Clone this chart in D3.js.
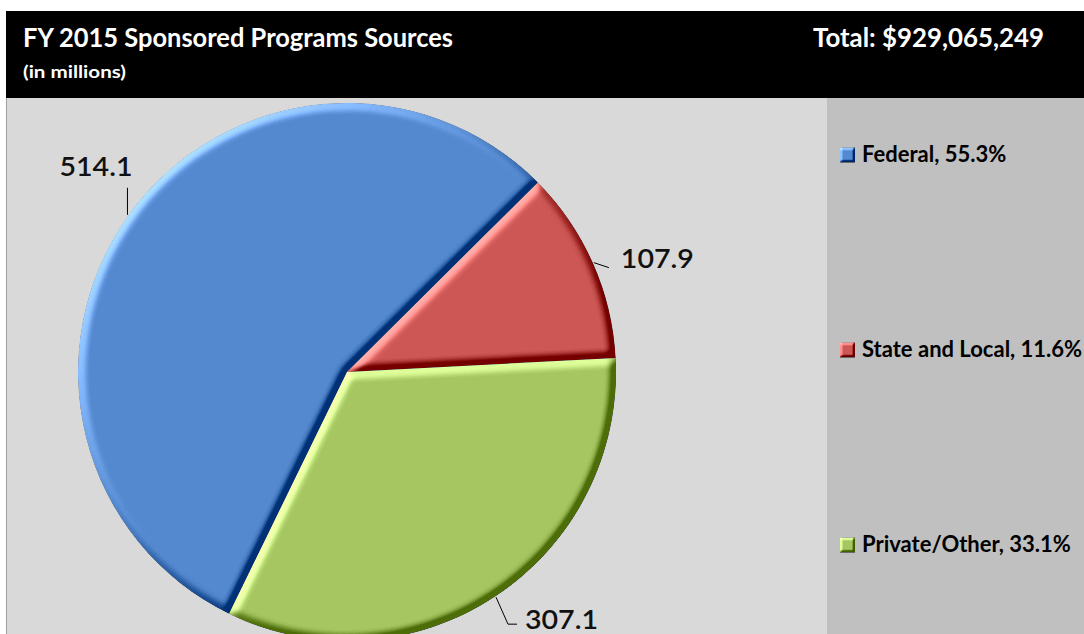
<!DOCTYPE html>
<html>
<head>
<meta charset="utf-8">
<script src="https://cdn.jsdelivr.net/npm/d3@7"></script>
<style>
  html, body { margin: 0; padding: 0; background: #ffffff; }
  svg { display: block; }
  text { font-family: Lato, "Open Sans", sans-serif; }
</style>
</head>
<body>
<svg id="chart" width="1084" height="634"></svg>
<script>
// Sponsored program sources, FY 2015 ($ millions)
const categories = ["Federal", "State and Local", "Private/Other"];
const values = [514.1, 107.9, 307.1];
const colors = ["#5589cf", "#cd5754", "#a5c660"];
const title = "FY 2015 Sponsored Programs Sources";
const subtitle = "(in millions)";
const totalLabel = "Total: $929,065,249";

// Leader-line elbows and text anchors, relative to each slice's rim point
const labelLayout = [
  { path: [[0, -27]], text: [5, -39], anchor: "end" },
  { path: [[15, 5]], text: [27, 5.5], anchor: "start" },
  { path: [[12, 27], [21, 27]], text: [29, 32], anchor: "start" }
];

const W = 1084, H = 634;
const svg = d3.select("#chart");

// Lighting filter giving each slice a bevelled, lit-from-top-left look
const defs = svg.append("defs");
function bevel(id, blur, scale, strength) {
  const f = defs.append("filter").attr("id", id)
    .attr("x", "-5%").attr("y", "-5%").attr("width", "110%").attr("height", "110%")
    .attr("color-interpolation-filters", "sRGB");
  f.append("feGaussianBlur").attr("in", "SourceAlpha").attr("stdDeviation", blur).attr("result", "blur");
  f.append("feDiffuseLighting").attr("in", "blur").attr("surfaceScale", scale)
    .attr("diffuseConstant", 1).attr("lighting-color", "#ffffff").attr("result", "light")
    .append("feDistantLight").attr("azimuth", 225).attr("elevation", 30);
  // flat areas light to 0.5, so this leaves them at their base colour
  f.append("feComposite").attr("in", "SourceGraphic").attr("in2", "light")
    .attr("operator", "arithmetic").attr("k1", 0).attr("k2", 1)
    .attr("k3", strength).attr("k4", -strength / 2)
    .attr("result", "lit");
  f.append("feComposite").attr("in", "lit").attr("in2", "SourceAlpha").attr("operator", "in");
}
bevel("bevel", 4.5, 7, 0.7);
bevel("bevelSmall", 1.2, 3, 0.8);

// Plot area and legend panel
svg.append("rect").attr("x", 6).attr("y", 98).attr("width", W - 6).attr("height", H - 98).attr("fill", "#d9d9d9");
svg.append("rect").attr("x", 827).attr("y", 98).attr("width", W - 827).attr("height", H - 98).attr("fill", "#c0c0c0");
svg.append("line").attr("x1", 6.5).attr("x2", 6.5).attr("y1", 98).attr("y2", H).attr("stroke", "#a0a0a0");

// Header band
svg.append("rect").attr("x", 6).attr("y", 11).attr("width", W - 6).attr("height", 87).attr("fill", "#000000");
svg.append("text").attr("x", 23).attr("y", 47).attr("fill", "#ffffff")
  .attr("font-size", 27.5).attr("font-weight", 700)
  .attr("textLength", 430).attr("lengthAdjust", "spacingAndGlyphs").text(title);
svg.append("text").attr("x", 23).attr("y", 78).attr("fill", "#ffffff")
  .attr("font-size", 17).attr("font-weight", 700)
  .attr("textLength", 103).attr("lengthAdjust", "spacingAndGlyphs").text(subtitle);
svg.append("text").attr("x", 813).attr("y", 47).attr("fill", "#ffffff")
  .attr("font-size", 27.5).attr("font-weight", 700)
  .attr("textLength", 231).attr("lengthAdjust", "spacingAndGlyphs").text(totalLabel);

// Pie
const cx = 347, cy = 372, radius = 269;
const total = d3.sum(values);
const startAngle = -154 * Math.PI / 180;
const pie = d3.pie().sort(null).value(d => d).startAngle(startAngle).endAngle(startAngle + 2 * Math.PI);
const arcs = pie(values);
const arc = d3.arc().innerRadius(0).outerRadius(radius);
const color = d3.scaleOrdinal().domain(categories).range(colors);

const g = svg.append("g").attr("transform", `translate(${cx},${cy})`);
g.selectAll("path.slice").data(arcs).join("path")
  .attr("class", "slice")
  .attr("d", arc)
  .attr("fill", (d, i) => color(categories[i]))
  .attr("filter", "url(#bevel)");

// Value labels with leader lines
const fmt = d3.format(".1f");
arcs.forEach((a, i) => {
  const mid = (a.startAngle + a.endAngle) / 2;
  const rx = Math.sin(mid) * (radius + 1), ry = -Math.cos(mid) * (radius + 1);
  const L = labelLayout[i];
  const pts = [[rx, ry]].concat(L.path.map(p => [rx + p[0], ry + p[1]]));
  g.append("path").attr("d", d3.line()(pts)).attr("fill", "none")
    .attr("stroke", "#000000").attr("stroke-width", 1);
  g.append("text").attr("x", rx + L.text[0]).attr("y", ry + L.text[1])
    .attr("text-anchor", L.anchor).attr("font-size", 27).attr("fill", "#111111")
    .attr("font-family", "'Open Sans', Lato, sans-serif").attr("font-weight", 600)
    .attr("textLength", 73).attr("lengthAdjust", "spacingAndGlyphs")
    .text(fmt(values[i]));
});

// Legend
const pct = d3.format(".1%");
const legendY = d3.scalePoint().domain(categories).range([162, 552]);
const lg = svg.append("g").selectAll("g").data(categories).join("g")
  .attr("transform", d => `translate(840,${legendY(d)})`);
lg.append("rect").attr("x", 0).attr("y", -14.5).attr("width", 15).attr("height", 15)
  .attr("fill", d => color(d)).attr("filter", "url(#bevelSmall)");
lg.append("text").attr("x", 22).attr("y", 0).attr("font-size", 22).attr("font-weight", 700)
  .attr("fill", "#000000")
  .text((d, i) => `${d}, ${pct(values[i] / total)}`);
</script>
</body>
</html>
